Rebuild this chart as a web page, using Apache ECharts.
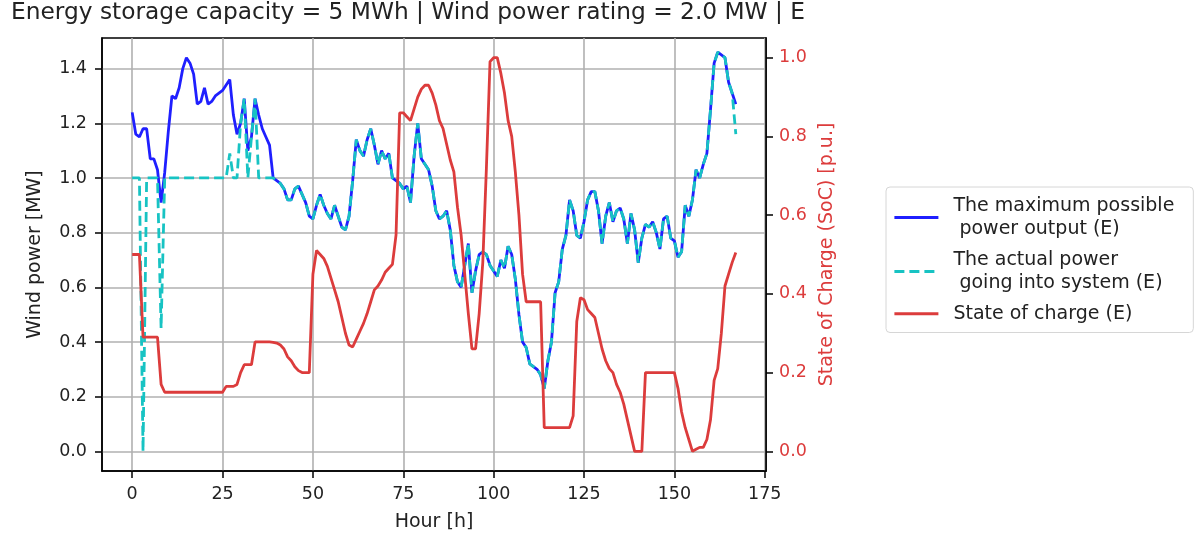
<!DOCTYPE html>
<html>
<head>
<meta charset="utf-8">
<script src="https://cdn.jsdelivr.net/npm/echarts@6/dist/echarts.min.js"></script>
<style>
html,body{margin:0;padding:0;background:#fff;}
#chart{width:1195px;height:540px;}
</style>
</head>
<body>
<div id="chart"></div>
<script>
// ---- data ----
const titleText = 'Energy storage capacity = 5 MWh | Wind power rating = 2.0 MW | E';
const xTicks = [0, 25, 50, 75, 100, 125, 150, 175];
const yTicksLeft = [0, 0.2, 0.4, 0.6, 0.8, 1.0, 1.2, 1.4];
const yTicksRight = [0, 0.2, 0.4, 0.6, 0.8, 1.0];
const seriesNames = [
  'The maximum possible\n power output (E)',
  'The actual power\n going into system (E)',
  'State of charge (E)'
];
// maximum possible power output [MW], hour 0..167
const pMax = [
1.24,1.16,1.15,1.18,1.18,1.07,1.07,1.03,0.91,1.02,
1.17,1.30,1.29,1.33,1.40,1.44,1.42,1.38,1.27,1.28,
1.33,1.27,1.28,1.30,1.31,1.32,1.34,1.36,1.23,1.16,
1.20,1.29,1.10,1.15,1.29,1.23,1.18,1.15,1.12,1.00,
0.99,0.98,0.96,0.92,0.92,0.96,0.97,0.94,0.91,0.86,
0.85,0.90,0.94,0.90,0.87,0.85,0.90,0.86,0.82,0.81,
0.86,0.99,1.14,1.10,1.08,1.14,1.18,1.12,1.05,1.10,
1.07,1.09,1.00,0.99,0.98,0.96,0.97,0.91,1.08,1.20,
1.07,1.05,1.03,0.97,0.88,0.85,0.86,0.88,0.81,0.68,
0.62,0.60,0.68,0.76,0.58,0.66,0.72,0.73,0.72,0.68,
0.66,0.64,0.70,0.67,0.75,0.72,0.63,0.50,0.40,0.38,
0.32,0.31,0.30,0.28,0.23,0.33,0.40,0.58,0.62,0.74,
0.79,0.92,0.88,0.79,0.78,0.84,0.92,0.95,0.95,0.88,
0.76,0.86,0.91,0.84,0.88,0.89,0.85,0.76,0.87,0.81,
0.69,0.78,0.83,0.82,0.84,0.80,0.74,0.85,0.86,0.78,
0.77,0.71,0.73,0.90,0.86,0.92,1.03,1.00,1.05,1.09,
1.25,1.42,1.46,1.45,1.44,1.35,1.31,1.27
];
// actual power going into system [MW], hour 0..167
const pAct = [
1.00,1.00,1.00,0.00,1.00,1.00,1.00,1.00,0.45,1.00,
1.00,1.00,1.00,1.00,1.00,1.00,1.00,1.00,1.00,1.00,
1.00,1.00,1.00,1.00,1.00,1.00,1.00,1.09,1.00,1.00,
1.20,1.29,1.00,1.15,1.29,1.00,1.00,1.00,1.00,1.00,
0.99,0.98,0.96,0.92,0.92,0.96,0.97,0.94,0.91,0.86,
0.85,0.90,0.94,0.90,0.87,0.85,0.90,0.86,0.82,0.81,
0.86,0.99,1.14,1.10,1.08,1.14,1.18,1.12,1.05,1.10,
1.07,1.09,1.00,0.99,0.98,0.96,0.97,0.91,1.08,1.20,
1.07,1.05,1.03,0.97,0.88,0.85,0.86,0.88,0.81,0.68,
0.62,0.60,0.68,0.76,0.58,0.66,0.72,0.73,0.72,0.68,
0.66,0.64,0.70,0.67,0.75,0.72,0.63,0.50,0.40,0.38,
0.32,0.31,0.30,0.28,0.23,0.33,0.40,0.58,0.62,0.74,
0.79,0.92,0.88,0.79,0.78,0.84,0.92,0.95,0.95,0.88,
0.76,0.86,0.91,0.84,0.88,0.89,0.85,0.76,0.87,0.81,
0.69,0.78,0.83,0.82,0.84,0.80,0.74,0.85,0.86,0.78,
0.77,0.71,0.73,0.90,0.86,0.92,1.03,1.00,1.05,1.09,
1.25,1.42,1.46,1.45,1.44,1.35,1.31,1.16
];
// state of charge [p.u.], hour 0..167
const soc = [
0.50,0.50,0.50,0.29,0.29,0.29,0.29,0.29,0.17,0.15,
0.15,0.15,0.15,0.15,0.15,0.15,0.15,0.15,0.15,0.15,
0.15,0.15,0.15,0.15,0.15,0.15,0.165,0.165,0.165,0.17,
0.20,0.22,0.22,0.22,0.278,0.278,0.278,0.278,0.278,0.277,
0.275,0.27,0.26,0.24,0.23,0.215,0.205,0.20,0.20,0.20,
0.45,0.51,0.50,0.49,0.47,0.44,0.41,0.38,0.34,0.30,
0.27,0.265,0.285,0.305,0.325,0.35,0.38,0.41,0.42,0.435,
0.455,0.465,0.475,0.55,0.86,0.86,0.85,0.84,0.87,0.90,
0.92,0.93,0.93,0.91,0.88,0.84,0.82,0.78,0.74,0.71,
0.62,0.55,0.45,0.35,0.26,0.26,0.35,0.48,0.72,0.99,
1.00,1.00,0.96,0.91,0.84,0.80,0.71,0.60,0.45,0.38,
0.38,0.38,0.38,0.38,0.06,0.06,0.06,0.06,0.06,0.06,
0.06,0.06,0.09,0.33,0.39,0.385,0.36,0.35,0.34,0.30,
0.26,0.23,0.21,0.20,0.17,0.15,0.12,0.08,0.04,0.00,
0.00,0.00,0.20,0.20,0.20,0.20,0.20,0.20,0.20,0.20,
0.20,0.16,0.10,0.06,0.03,0.00,0.005,0.01,0.01,0.03,
0.08,0.18,0.21,0.30,0.42,0.45,0.48,0.505
];

const toPairs = arr => arr.map((v, i) => [i, v]);
const FONT = 'DejaVu Sans';
const RED = '#dc3c3c';
const BLUE = '#1f1fff';
const CYAN = '#17c3c3';

const chart = echarts.init(document.getElementById('chart'), null, {renderer: 'canvas'});
chart.setOption({
  animation: false,
  backgroundColor: '#fff',
  title: {
    text: titleText,
    left: 11, top: 1, padding: 0,
    textStyle: {fontFamily: FONT, fontSize: 23.3, fontWeight: 'normal', color: '#222'}
  },
  grid: {
    left: 102, right: 429, top: 38, bottom: 69,
    show: true, borderColor: '#000', borderWidth: 1.5, backgroundColor: 'transparent'
  },
  legend: {
    orient: 'vertical',
    left: 886, top: 187,
    padding: [7, 19, 7, 7],
    itemGap: 7,
    itemWidth: 44, itemHeight: 12,
    borderColor: '#d6d6d6', borderWidth: 1, borderRadius: 4,
    backgroundColor: '#fff',
    itemStyle: {opacity: 0},
    lineStyle: {width: 2.8},
    textStyle: {fontFamily: FONT, fontSize: 19, color: '#222', lineHeight: 23.5, padding: [0, 0, 0, 10]},
    data: seriesNames
  },
  xAxis: {
    type: 'value', min: -8.35, max: 175.35,
    name: 'Hour [h]', nameLocation: 'middle', nameGap: 42,
    nameTextStyle: {fontFamily: FONT, fontSize: 19, color: '#222'},
    axisLine: {show: true, onZero: false, lineStyle: {color: '#000', width: 1.5}},
    axisTick: {show: true, customValues: xTicks, length: 7, inside: false, lineStyle: {color: '#000', width: 1.5}},
    axisLabel: {customValues: xTicks, margin: 14, fontFamily: FONT, fontSize: 17.5, color: '#222'},
    splitLine: {show: true, customValues: xTicks, lineStyle: {color: '#b0b0b0', width: 1.6}}
  },
  yAxis: [{
    type: 'value', min: -0.072, max: 1.512, position: 'left',
    name: 'Wind power [MW]', nameLocation: 'middle', nameGap: 57, nameRotate: 90,
    nameTextStyle: {fontFamily: FONT, fontSize: 19, color: '#222'},
    axisLine: {show: true, onZero: false, lineStyle: {color: '#000', width: 1.5}},
    axisTick: {show: true, customValues: yTicksLeft, length: 7, lineStyle: {color: '#000', width: 1.5}},
    axisLabel: {customValues: yTicksLeft, margin: 15, fontFamily: FONT, fontSize: 17.5, color: '#222',
      formatter: v => v.toFixed(1)},
    splitLine: {show: true, customValues: yTicksLeft, lineStyle: {color: '#b0b0b0', width: 1.6}}
  }, {
    type: 'value', min: -0.05, max: 1.05, position: 'right',
    name: 'State of Charge (SoC) [p.u.]', nameLocation: 'middle', nameGap: 48, nameRotate: 90,
    nameTextStyle: {fontFamily: FONT, fontSize: 19, color: RED},
    axisLine: {show: true, onZero: false, lineStyle: {color: '#000', width: 1.5}},
    axisTick: {show: true, customValues: yTicksRight, length: 7, lineStyle: {color: '#000', width: 1.5}},
    axisLabel: {customValues: yTicksRight, margin: 13, fontFamily: FONT, fontSize: 17.5, color: RED,
      formatter: v => v.toFixed(1)},
    splitLine: {show: false}
  }],
  series: [{
    name: seriesNames[0], type: 'line', yAxisIndex: 0, data: toPairs(pMax),
    symbol: 'none', lineStyle: {color: BLUE, width: 2.8}, itemStyle: {color: BLUE}, z: 2
  }, {
    name: seriesNames[1], type: 'line', yAxisIndex: 0, data: toPairs(pAct),
    symbol: 'none', lineStyle: {color: CYAN, width: 2.8, type: [10, 5]}, itemStyle: {color: CYAN}, z: 3
  }, {
    name: seriesNames[2], type: 'line', yAxisIndex: 1, data: toPairs(soc),
    symbol: 'none', lineStyle: {color: RED, width: 2.8}, itemStyle: {color: RED}, z: 4
  }]
});
</script>
</body>
</html>
